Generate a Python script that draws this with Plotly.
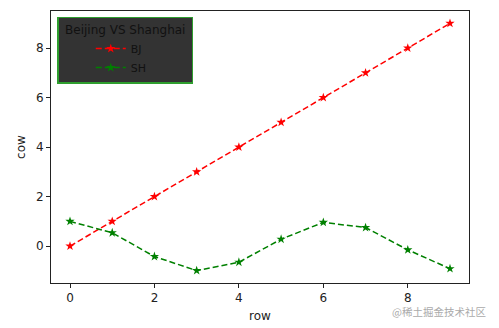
import plotly.graph_objects as go

x_vals = [0, 1, 2, 3, 4, 5, 6, 7, 8, 9]
bj_vals = [0, 1, 2, 3, 4, 5, 6, 7, 8, 9]
sh_vals = [1.0, 0.54, -0.42, -0.99, -0.65, 0.28, 0.96, 0.75, -0.15, -0.91]
x_ticks = [0, 2, 4, 6, 8]
y_ticks = [0, 2, 4, 6, 8]

fig = go.Figure()
fig.add_trace(go.Scatter(x=x_vals, y=bj_vals, name="BJ", mode="lines+markers",
                         line=dict(color="red", dash="6px,3px", width=1.5),
                         marker=dict(symbol="star", size=7, color="red")))
fig.add_trace(go.Scatter(x=x_vals, y=sh_vals, name="SH", mode="lines+markers",
                         line=dict(color="green", dash="6px,3px", width=1.5),
                         marker=dict(symbol="star", size=7, color="green")))

axis_common = dict(showgrid=False, zeroline=False, showline=True, mirror=True,
                   linecolor="#222", linewidth=1, ticks="outside", ticklen=4,
                   tickcolor="#222", tickfont=dict(size=12, color="#222"),
                   automargin=False)
fig.update_xaxes(range=[-0.45, 9.45], tickvals=x_ticks, title=dict(text="row", font=dict(size=12, color="#222"), standoff=7), **axis_common)
fig.update_yaxes(range=[-1.49, 9.5], tickvals=y_ticks, title=dict(text="cow", font=dict(size=12, color="#222"), standoff=7), **axis_common)

fig.update_layout(
    width=499, height=328,
    margin=dict(l=51, r=30, t=11, b=45),
    paper_bgcolor="white", plot_bgcolor="white",
    font=dict(family="DejaVu Sans", size=12, color="#222"),
    legend=dict(x=0.015, y=0.978, xanchor="left", yanchor="top",
                bgcolor="#333333", bordercolor="#2e9e2e", borderwidth=1.5,
                title=dict(text="&nbsp;Beijing VS Shanghai&nbsp;", side="top center", font=dict(size=12, color="#111")),
                font=dict(size=11, color="#111"), itemwidth=30, indentation=32,
                tracegroupgap=0),
    annotations=[dict(text="@稀土掘金技术社区", x=1.0, y=0, xref="paper", yref="paper",
                      xanchor="right", yanchor="top", yshift=-19, xshift=19,
                      showarrow=False, font=dict(size=10.5, color="#aaa", family="Noto Sans CJK SC"))],
)

fig.write_html("out.html")
